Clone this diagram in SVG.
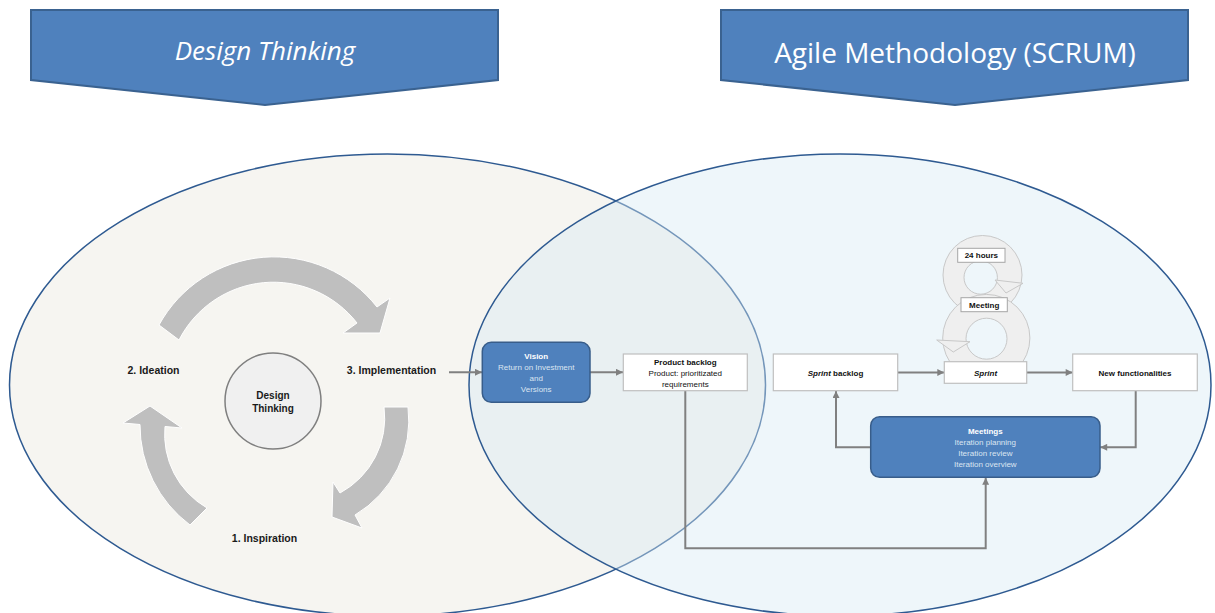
<svg xmlns="http://www.w3.org/2000/svg" width="1215" height="613" viewBox="0 0 1215 613">
<style>
.banner{fill:#4f81bd;stroke:#3a6290;stroke-width:2}
.btxt{font-family:"Open Sans","Noto Sans",sans-serif;fill:#ffffff;text-anchor:middle}
.cyc{fill:#bfbfbf;stroke:#ffffff;stroke-width:1}
.lbl{font-family:"Liberation Sans",Arial,sans-serif;font-weight:bold;fill:#1a1a1a;text-anchor:middle}
.sm{font-family:"Liberation Sans",Arial,sans-serif;font-size:8px;text-anchor:middle;fill:#111111}
.b{font-weight:bold}
.blue{fill:#4f81bd;stroke:#385d8a;stroke-width:1.5}
.wbox{fill:#ffffff;stroke:#bfbfbf;stroke-width:1.2}
.wt{fill:#ffffff}
.lt{fill:#dbe5f1}
.conn{fill:none;stroke:#808080;stroke-width:2}
.ring{fill:#efefef;stroke:#c8c8c8;stroke-width:1;fill-rule:evenodd}
.tag{fill:#ffffff;stroke:#a6a6a6;stroke-width:1}
</style>
<defs>
<marker id="ah" viewBox="0 0 10 10" refX="10" refY="5" markerWidth="8" markerHeight="7" markerUnits="userSpaceOnUse" orient="auto">
<path d="M0,0 L10,5 L0,10 Z" fill="#808080"/>
</marker>
</defs>
<rect width="1215" height="613" fill="#ffffff"/>

<g id="design-thinking-area">
<ellipse cx="387.5" cy="385" rx="378" ry="231" fill="#f6f5f1" stroke="#2e5a91" stroke-width="1.5"/>
</g>
<g id="agile-area">
<ellipse cx="840" cy="385" rx="371" ry="231" fill="#d6e9f2" fill-opacity="0.42" stroke="#2e5a91" stroke-width="1.5"/>
</g>

<g id="banner-design-thinking">
<polygon class="banner" points="31,10 498,10 498,80 265,105 31,80"/>
<text class="btxt" x="265" y="60" font-size="26" font-style="italic">Design Thinking</text>
</g>
<g id="banner-agile">
<polygon class="banner" points="721,10 1188,10 1188,80 955,105 721,80"/>
<text class="btxt" x="955" y="62.5" font-size="28">Agile Methodology (SCRUM)</text>
</g>

<g id="cycle-arrows">
<path class="cyc" d="M159,325 A131,131 0 0 1 377,307 L390,298 L380,333 L343,333 L357,323 A106,106 0 0 0 179,340 Z"/>
<path class="cyc" d="M408,407 A110,110 0 0 1 355,515 L362,528 L332,517 L333,482 L340,493 A85,85 0 0 0 384,407 Z"/>
<path class="cyc" d="M190,525 A125,125 0 0 1 140,424.5 L123,423 L150,406 L182,428 L165,426.5 A85,85 0 0 0 207,508 Z"/>
</g>

<g id="design-thinking-core">
<circle cx="273" cy="401" r="48" fill="#f0f0f0" stroke="#7f7f7f" stroke-width="1.5"/>
<text class="lbl" font-size="10" x="273" y="398.5">Design</text>
<text class="lbl" font-size="10" x="273" y="411.5">Thinking</text>
</g>
<g id="ideation"><text class="lbl" font-size="10.5" x="153.5" y="374">2. Ideation</text></g>
<g id="implementation"><text class="lbl" font-size="10.5" x="391.5" y="374">3. Implementation</text></g>
<g id="inspiration"><text class="lbl" font-size="10.5" x="264.5" y="542">1. Inspiration</text></g>

<g id="sprint-cycle">
<path class="ring" d="M943,275 a39.5,39.5 0 1 0 79,0 a39.5,39.5 0 1 0 -79,0 Z M964,277.5 a16.7,16.7 0 1 0 33.4,0 a16.7,16.7 0 1 0 -33.4,0 Z"/>
<polygon class="ring" points="995,280 1023,283.3 1006,293"/>
<path class="ring" d="M942.7,338 a43.6,43.6 0 1 0 87.2,0 a43.6,43.6 0 1 0 -87.2,0 Z M966,338.7 a20.5,20.5 0 1 0 41,0 a20.5,20.5 0 1 0 -41,0 Z"/>
<polygon class="ring" points="936.7,340 970,341.7 953.3,352"/>
<g id="tag-24-hours">
<rect class="tag" x="957.7" y="248.3" width="47.3" height="14"/>
<text class="sm b" x="981.3" y="258.3">24 hours</text>
</g>
<g id="tag-meeting">
<rect class="tag" x="961" y="297.7" width="46.3" height="14"/>
<text class="sm b" x="984.2" y="308">Meeting</text>
</g>
</g>

<g id="connectors">
<path class="conn" d="M449,372.3 H482" marker-end="url(#ah)"/>
<path class="conn" d="M590,372.3 H623" marker-end="url(#ah)"/>
<path class="conn" d="M685.3,391 V548.3 H985.7 V477.8" marker-end="url(#ah)"/>
<path class="conn" d="M897.7,372.5 H944.3" marker-end="url(#ah)"/>
<path class="conn" d="M1026.7,372.5 H1072.7" marker-end="url(#ah)"/>
<path class="conn" d="M1135.7,391 V447.3 H1100.2" marker-end="url(#ah)"/>
<path class="conn" d="M870.7,447.3 H836 V391" marker-end="url(#ah)"/>
</g>

<g id="vision">
<rect class="blue" x="482.3" y="342.3" width="107.7" height="60" rx="9"/>
<text class="sm b wt" font-size="8.5" x="536.2" y="359">Vision</text>
<text class="sm lt" font-size="8.5" x="536.2" y="369.8">Return on Investment</text>
<text class="sm lt" font-size="8.5" x="536.2" y="381.2">and</text>
<text class="sm lt" font-size="8.5" x="536.2" y="392.2">Versions</text>
</g>
<g id="product-backlog">
<rect class="wbox" x="623.3" y="354" width="124" height="36.7"/>
<text class="sm b" x="685.3" y="365">Product backlog</text>
<text class="sm" x="685.3" y="376">Product: prioritizated</text>
<text class="sm" x="685.3" y="387">requirements</text>
</g>
<g id="sprint-backlog">
<rect class="wbox" x="773.3" y="354" width="124.4" height="36.7"/>
<text class="sm b" font-size="8.5" x="835.5" y="375.5"><tspan font-style="italic">Sprint</tspan> backlog</text>
</g>
<g id="sprint">
<rect class="wbox" x="944.3" y="361.7" width="82.4" height="21.6"/>
<text class="sm b" font-size="8.5" font-style="italic" x="985.5" y="375.5">Sprint</text>
</g>
<g id="new-functionalities">
<rect class="wbox" x="1072.7" y="354" width="124.6" height="36.7"/>
<text class="sm b" x="1135" y="375.5">New functionalities</text>
</g>
<g id="meetings">
<rect class="blue" x="870.7" y="416.7" width="229.3" height="60.6" rx="9"/>
<text class="sm b wt" font-size="8.5" x="985.3" y="434.2">Meetings</text>
<text class="sm lt" font-size="8.5" x="985.3" y="445">Iteration planning</text>
<text class="sm lt" font-size="8.5" x="985.3" y="456">Iteration review</text>
<text class="sm lt" font-size="8.5" x="985.3" y="467">Iteration overview</text>
</g>
</svg>
